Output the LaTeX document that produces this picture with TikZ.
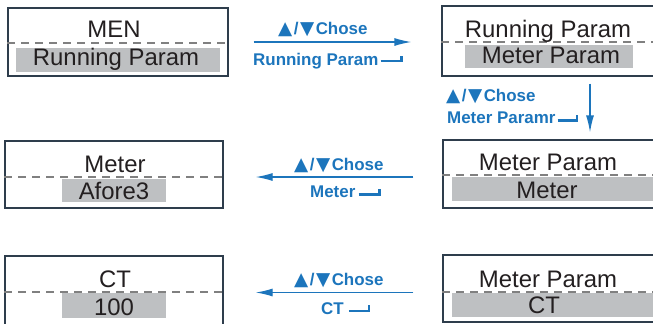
\documentclass[tikz,border=0pt]{standalone}
\usepackage{fontspec}
\setmainfont{Liberation Sans}
\newfontfamily\symbolen{DejaVu Sans}
\usetikzlibrary{arrows.meta}

\definecolor{blauw}{HTML}{1C75BC}
\definecolor{grijs}{HTML}{BEC0C2}
\definecolor{rand}{HTML}{2E3D4C}
\definecolor{tekst}{HTML}{231F20}

% pijltjes omhoog/omlaag
\newcommand{\driehoek}[1]{{\symbolen\fontsize{18.5}{20}\selectfont #1}}
\newcommand{\opneer}{\driehoek{▲}\hspace{1.5bp}/\hspace{1.5bp}\driehoek{▼}\hspace{1.5bp}}

\begin{document}
\begin{tikzpicture}[x=1bp, y=-1bp]

% --- Stijldefinities ---
\tikzset{
    kader/.style={
        draw=rand,
        line width=1.3bp,
        inner sep=0pt
    },
    balk/.style={
        fill=grijs,
        inner sep=0pt
    },
    scherm/.style={
        text=tekst,
        font=\fontsize{24}{28}\selectfont,
        inner sep=0pt,
        anchor=base
    },
    streep/.style={
        draw=gray,
        line width=1.1bp,
        dash pattern=on 8bp off 6bp
    },
    uitleg/.style={
        text=blauw,
        font=\fontsize{17}{20}\selectfont\bfseries,
        inner sep=0pt
    },
    pijl/.style={
        -{Latex[length=17bp,width=8bp]},
        line width=1.3bp,
        draw=blauw
    },
    haak/.style={
        draw=blauw,
        line width=2.3bp
    }
}

\useasboundingbox (0,0) rectangle (653,323);

% --- Kaders ---
\node[kader, minimum width=220bp, minimum height=68bp] (k1) at (118,42) {};
\node[kader, minimum width=213bp, minimum height=70bp] (k2) at (548.5,41) {};
\node[kader, minimum width=212bp, minimum height=68bp] (k3) at (549,174) {};
\node[kader, minimum width=218bp, minimum height=67bp] (k4) at (114,174.5) {};
\node[kader, minimum width=218bp, minimum height=74bp] (k5) at (114,293) {};
\node[kader, minimum width=212bp, minimum height=67bp] (k6) at (549,288.5) {};

% --- Stippellijnen ---
\draw[streep] (k1.west |- 0,43)  -- (k1.east |- 0,43);
\draw[streep] (k2.west |- 0,42)  -- (k2.east |- 0,42);
\draw[streep] (k3.west |- 0,175) -- (k3.east |- 0,175);
\draw[streep] (k4.west |- 0,177) -- (k4.east |- 0,177);
\draw[streep] (k5.west |- 0,292) -- (k5.east |- 0,292);
\draw[streep] (k6.west |- 0,292) -- (k6.east |- 0,292);

% --- Grijze balken ---
\node[balk, minimum width=204bp, minimum height=24bp] (b1) at (118,60) {};
\node[balk, minimum width=168bp, minimum height=23bp] (b2) at (549,56.5) {};
\node[balk, minimum width=204bp, minimum height=24bp] (b3) at (554,189) {};
\node[balk, minimum width=104bp, minimum height=23bp] (b4) at (114,190.5) {};
\node[balk, minimum width=104bp, minimum height=25bp] (b5) at (114,305.5) {};
\node[balk, minimum width=204bp, minimum height=24bp] (b6) at (554,305) {};

% --- Schermteksten ---
\node[scherm] (t1) at (114,37.5)  {MEN};
\node[scherm] (s1) at (116,65)    {Running Param};
\node[scherm] (t2) at (548,37.5)  {Running Param};
\node[scherm] (s2) at (551,63.5)  {Meter Param};
\node[scherm] (t3) at (548,170.5) {Meter Param};
\node[scherm] (s3) at (547,198)   {Meter};
\node[scherm] (t4) at (115,172.5) {Meter};
\node[scherm] (s4) at (114,199)   {Afore3};
\node[scherm] (t5) at (115,287.5) {CT};
\node[scherm] (s5) at (114,315)   {100};
\node[scherm] (t6) at (548,287)   {Meter Param};
\node[scherm] (s6) at (544,313.5) {CT};

% --- Uitleg bij de pijlen ---
\node[uitleg, anchor=base west] (u1a) at (278,34)    {\opneer Chose};
\node[uitleg, anchor=base west] (u1b) at (253,65)    {Running Param};
\node[uitleg, anchor=base west] (u2a) at (446,101.5) {\opneer Chose};
\node[uitleg, anchor=base west] (u2b) at (447,123.5) {Meter Paramr};
\node[uitleg, anchor=base west] (u3a) at (294,170)   {\opneer Chose};
\node[uitleg, anchor=base west] (u3b) at (310,197.5) {Meter};
\node[uitleg, anchor=base west] (u4a) at (294,285)   {\opneer Chose};
\node[uitleg, anchor=base west] (u4b) at (321,314)   {CT};

% Enter-tekens
\draw[haak] ([xshift=2bp,yshift=4bp]u1b.base east) -- ++(21,0) -- ++(0,-5.5);
\draw[haak] ([xshift=2bp,yshift=3bp]u2b.base east) -- ++(19,0) -- ++(0,-6);
\draw[haak] ([xshift=3bp,yshift=3bp]u3b.base east) -- ++(21,0) -- ++(0,-6);
\draw[haak] ([xshift=5bp,yshift=3bp]u4b.base east) -- ++(20,0) -- ++(0,-6);

% --- Pijlen ---
\draw[pijl, shorten <=25bp, shorten >=30bp] (k1.east |- 0,42) -- (k2.west |- 0,42);
\draw[pijl, shorten <=7bp, shorten >=7bp] (k2.south -| 590,0) -- (k3.north -| 590,0);
\draw[pijl, shorten <=29bp, shorten >=32bp] (k3.west |- 0,177) -- (k4.east |- 0,177);
\draw[pijl, shorten <=29bp, shorten >=32bp] (k6.west |- 0,292.5) -- (k5.east |- 0,292.5);

\end{tikzpicture}
\end{document}
